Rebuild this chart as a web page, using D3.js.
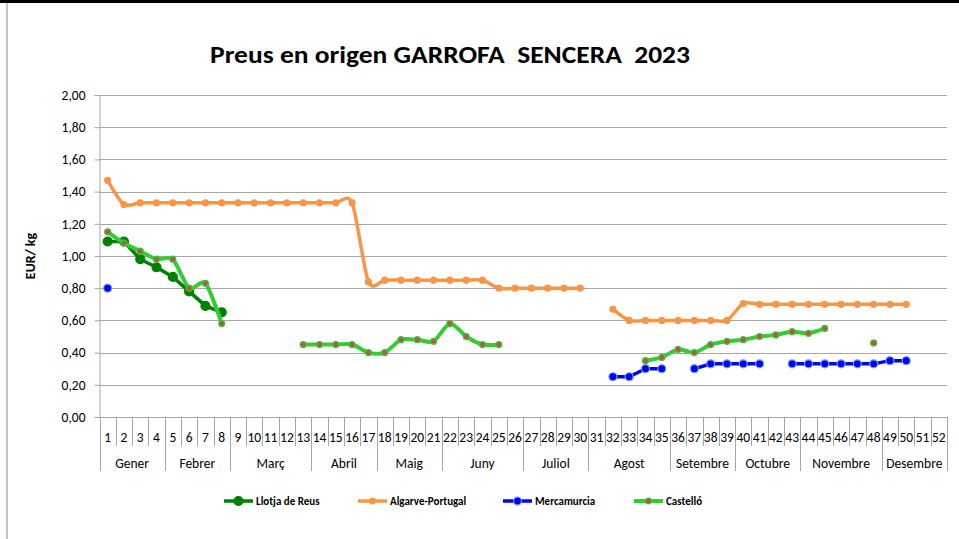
<!DOCTYPE html>
<html><head><meta charset="utf-8">
<script src="https://cdn.jsdelivr.net/npm/d3@7/dist/d3.min.js"></script>
<style>body{margin:0;background:#fff;} svg{display:block;font-family:Carlito,"Liberation Sans",Arial,sans-serif;}</style>
</head><body>
<script>
const weeks = d3.range(1, 53);
const months = [
  {name:"Gener", from:1, to:4},{name:"Febrer", from:5, to:8},{name:"Març", from:9, to:13},
  {name:"Abril", from:14, to:17},{name:"Maig", from:18, to:21},{name:"Juny", from:22, to:26},
  {name:"Juliol", from:27, to:30},{name:"Agost", from:31, to:35},{name:"Setembre", from:36, to:39},
  {name:"Octubre", from:40, to:43},{name:"Novembre", from:44, to:48},{name:"Desembre", from:49, to:52}
];
const yTicks = [0,0.2,0.4,0.6,0.8,1.0,1.2,1.4,1.6,1.8,2.0];

// values per week (null = no data), index 0 = week 1
const llotja = [1.09,1.09,0.98,0.93,0.87,0.78,0.69,0.65];
const algarve = [1.47,1.32,1.33,1.33,1.33,1.33,1.33,1.33,1.33,1.33,1.33,1.33,1.33,1.33,1.33,1.33,0.84,0.85,0.85,0.85,0.85,0.85,0.85,0.85,0.80,0.80,0.80,0.80,0.80,0.80,
  null,0.67,0.60,0.60,0.60,0.60,0.60,0.60,0.60,0.705,0.70,0.70,0.70,0.70,0.70,0.70,0.70,0.70,0.70,0.70];
const mercamurcia = [0.80,null,null,null,null,null,null,null,null,null,null,null,null,null,null,null,null,null,null,null,null,null,null,null,null,null,null,null,null,null,
  null,0.25,0.25,0.30,0.30,null,0.30,0.33,0.33,0.33,0.33,null,0.33,0.33,0.33,0.33,0.33,0.33,0.35,0.35];
const castello = [1.15,1.08,1.03,0.98,0.98,0.80,0.83,0.58,null,null,null,null,0.45,0.45,0.45,0.45,0.40,0.40,0.48,0.48,0.47,0.58,0.50,0.45,0.45,null,null,null,null,null,
  null,null,null,0.35,0.37,0.42,0.40,0.45,0.47,0.48,0.50,0.51,0.53,0.52,0.55,null,null,0.46];

const W = 959, H = 539;
const L = 99.5, R = 947, T = 95, B = 417;
const svg = d3.select("body").append("svg").attr("width", W).attr("height", H);

// frame
svg.append("rect").attr("x",0).attr("y",0).attr("width",W).attr("height",3).attr("fill","#000");
svg.append("line").attr("x1",7).attr("x2",7).attr("y1",3).attr("y2",H).attr("stroke","#8c8c8c").attr("stroke-width",1);

const x = d3.scaleBand().domain(weeks).range([L, R]);
const y = d3.scaleLinear().domain([0, 2]).range([B, T]);
const cx = w => x(w) + x.bandwidth()/2;

// title
svg.append("text").attr("x", 450).attr("y", 63).attr("text-anchor","middle")
  .attr("font-size", 24).attr("font-weight","bold").attr("fill","#000")
  .style("white-space","pre")
  .attr("textLength", 480).attr("lengthAdjust","spacingAndGlyphs")
  .text("Preus en origen GARROFA  SENCERA  2023");

// gridlines + y axis
const yAxis = d3.axisLeft(y).tickValues(yTicks).tickSize(5).tickPadding(9)
  .tickFormat(d => d3.format(".2f")(d).replace(".", ","));
const gy = svg.append("g").attr("transform", `translate(${L},0)`).call(yAxis);
gy.select(".domain").attr("stroke","#a6a6a6");
gy.selectAll(".tick line").attr("stroke","#a6a6a6");
gy.selectAll(".tick text").attr("font-size", 13.5).attr("fill","#000").attr("font-family","Carlito,'Liberation Sans',Arial,sans-serif");
svg.append("g").selectAll("line").data(yTicks.filter(d => d > 0)).join("line")
  .attr("x1", L).attr("x2", R).attr("y1", d => Math.round(y(d))+0.5).attr("y2", d => Math.round(y(d))+0.5)
  .attr("stroke","#a6a6a6").attr("stroke-width",1);

// y title
svg.append("text").attr("transform", `translate(35,${(T+B)/2}) rotate(-90)`).attr("text-anchor","middle")
  .attr("font-size", 14).attr("font-weight","bold").text("EUR/ kg");

// x axis (category, two levels)
const xa = svg.append("g");
xa.append("line").attr("x1", L).attr("x2", R).attr("y1", B+0.5).attr("y2", B+0.5).attr("stroke","#a6a6a6");
const bounds = d3.range(0, 53);
xa.selectAll("line.wk").data(bounds).join("line").attr("class","wk")
  .attr("x1", i => Math.round(L + i*x.step())+0.5).attr("x2", i => Math.round(L + i*x.step())+0.5)
  .attr("y1", B).attr("y2", i => (i===0 || i===52 || months.some(m => m.to===i)) ? 471 : 446)
  .attr("stroke","#a6a6a6");
xa.selectAll("text.wk").data(weeks).join("text").attr("class","wk")
  .attr("x", w => cx(w)).attr("y", 442).attr("text-anchor","middle").attr("font-size", 13.5)
  .text(d => d);
xa.selectAll("text.mo").data(months).join("text").attr("class","mo")
  .attr("x", m => (x(m.from) + x(m.to) + x.bandwidth())/2).attr("y", 468).attr("text-anchor","middle").attr("font-size", 13.5)
  .text(m => m.name);

// series
const series = [
  {name:"Llotja de Reus", values: llotja, color:"#008000", width:3.5, smooth:false, r:4.5, mfill:"#008000", mstroke:"#008000"},
  {name:"Algarve-Portugal", values: algarve, color:"#f79646", width:3.5, smooth:true, r:3, mfill:"#f79646", mstroke:"#f79646"},
  {name:"Mercamurcia", values: mercamurcia, color:"#0000ff", width:3.5, smooth:false, r:4, mfill:"#0000ff", mstroke:"#6fa8dc"},
  {name:"Castelló", values: castello, color:"#33cc33", width:4, smooth:true, r:3, mfill:"#c0504d", mstroke:"#33cc33"}
];

const plot = svg.append("g");
series.forEach(s => {
  const pts = s.values.map((v, i) => ({w: i+1, v}));
  const line = d3.line().defined(d => d.v != null).x(d => cx(d.w)).y(d => y(d.v))
    .curve(s.smooth ? d3.curveCardinal.tension(0.2) : d3.curveLinear);
  plot.append("path").datum(pts).attr("d", line).attr("fill","none")
    .attr("stroke", s.color).attr("stroke-width", s.width).attr("stroke-linejoin","round").attr("stroke-linecap","round");
  plot.append("g").selectAll("circle").data(pts.filter(d => d.v != null)).join("circle")
    .attr("cx", d => cx(d.w)).attr("cy", d => y(d.v)).attr("r", s.r)
    .attr("fill", s.mfill).attr("stroke", s.mstroke).attr("stroke-width", 1.2);
});

// legend
const legX = [224, 358, 503, 634];
const leg = svg.append("g");
series.forEach((s, i) => {
  const g = leg.append("g").attr("transform", `translate(${legX[i]},501)`);
  g.append("line").attr("x1",0).attr("x2",29).attr("y1",0).attr("y2",0)
    .attr("stroke", s.color).attr("stroke-width", s.width);
  g.append("circle").attr("cx",14.5).attr("cy",0).attr("r", s.r)
    .attr("fill", s.mfill).attr("stroke", s.mstroke).attr("stroke-width",1.2);
  g.append("text").attr("x", 32).attr("y", 4).attr("font-size", 11).attr("font-weight","bold").text(s.name);
});
</script>
</body></html>
